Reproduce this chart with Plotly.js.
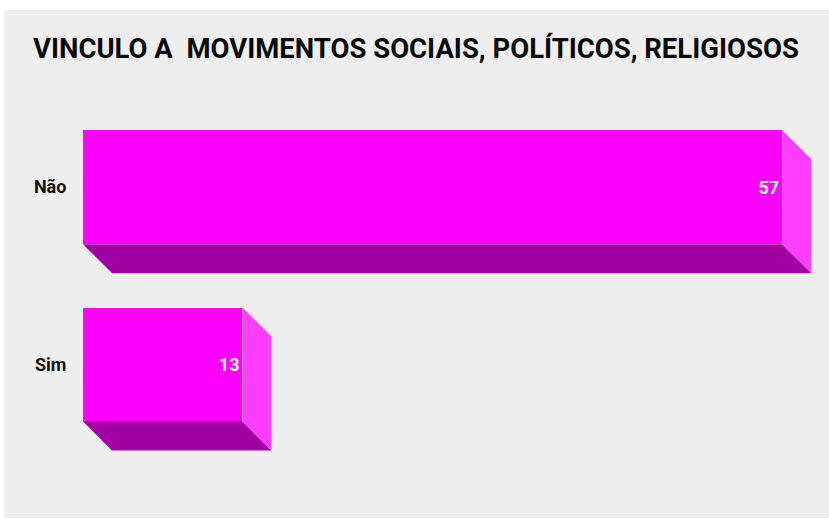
<!DOCTYPE html>
<html>
<head>
<meta charset="utf-8">
<script src="https://cdn.plot.ly/plotly-3.0.1.min.js"></script>
<style>
html,body{margin:0;padding:0;background:#ffffff;width:829px;height:519px;overflow:hidden;}
#chart{position:absolute;left:4px;top:10px;width:825px;height:508px;}
</style>
</head>
<body>
<div id="chart"></div>
<script>
const categories = ["Não", "Sim"];
const values = [57, 13];
const titleText = "VINCULO A  MOVIMENTOS SOCIAIS, POLÍTICOS, RELIGIOSOS";

const frontColor = "#ff00ff";
const bottomColor = "#a300a3";
const sideColor = "#ff3dff";
const barWidth = 0.643;
const depthX = 2.36;   // depth in x data units
const depthY = 0.163;  // depth in y data units

const pos = categories.map((c, i) => i);
const hw = barWidth / 2;

const traces = [];
values.forEach((v, i) => {
  const y = pos[i];
  // bottom face
  traces.push({
    type: "scatter", mode: "lines", fill: "toself",
    x: [0, v, v + depthX, depthX, 0],
    y: [y + hw, y + hw, y + hw + depthY, y + hw + depthY, y + hw],
    fillcolor: bottomColor, line: {width: 0, color: bottomColor},
    hoverinfo: "skip", showlegend: false
  });
  // right side face
  traces.push({
    type: "scatter", mode: "lines", fill: "toself",
    x: [v, v + depthX, v + depthX, v, v],
    y: [y - hw, y - hw + depthY, y + hw + depthY, y + hw, y - hw],
    fillcolor: sideColor, line: {width: 0, color: sideColor},
    hoverinfo: "skip", showlegend: false
  });
});

traces.push({
  type: "bar", orientation: "h",
  x: values, y: pos, width: barWidth,
  marker: {color: frontColor, line: {width: 0}},
  text: values.map(String),
  textposition: "inside", insidetextanchor: "end",
  textfont: {family: "Roboto, sans-serif", size: 18, color: "#ffffff", weight: "bold"},
  cliponaxis: false,
  showlegend: false
});

const layout = {
  width: 825, height: 508,
  paper_bgcolor: "#eeeeee", plot_bgcolor: "#eeeeee",
  margin: {l: 79, r: 10, t: 53, b: 47},
  title: {
    text: "<b>" + titleText + "</b>",
    font: {family: "Roboto, sans-serif", size: 27.5, color: "#0a0a0a"},
    x: 0.0352, xanchor: "left", xref: "container",
    y: 0.925, yanchor: "middle", yref: "container"
  },
  xaxis: {range: [0, 60], visible: false, fixedrange: true},
  yaxis: {
    range: [1.6, -0.7], tickvals: pos, ticktext: categories,
    showgrid: false, zeroline: false, showline: false,
    ticks: "outside", ticklen: 12, tickcolor: "rgba(0,0,0,0)",
    tickfont: {family: "Roboto, sans-serif", size: 18, color: "#111111", weight: "bold"},
    fixedrange: true
  },
  bargap: 0, showlegend: false
};

Plotly.newPlot("chart", traces, layout, {displayModeBar: false, staticPlot: true});
</script>
</body>
</html>
